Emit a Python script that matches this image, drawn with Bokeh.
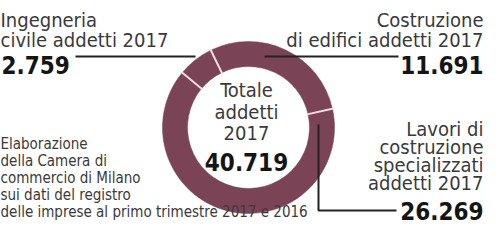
import numpy as np
from bokeh.plotting import figure
from bokeh.models import Range1d
from bokeh.core.properties import value
from bokeh.embed import file_html
from bokeh.resources import INLINE

# ---- data ----
categories = ["Costruzione di edifici", "Lavori di costruzione specializzati", "Ingegneria civile"]
addetti = [11691, 26269, 2759]
totale = 40719
labels_val = ["11.691", "26.269", "2.759"]
total_label = "40.719"

W, H = 485, 227
p = figure(width=W, height=H, output_backend="svg", toolbar_location=None,
           x_range=Range1d(0, W), y_range=Range1d(0, H), min_border=0)
p.axis.visible = False
p.grid.visible = False
p.outline_line_color = None
p.background_fill_color = "white"

def Y(sy):
    return (8 + H) - sy
def X(sx):
    return sx - 8

FONT = "DejaVu Sans Condensed"
REG = "#3a3a3a"
BOLD = "#151515"
RING = "#7a4456"
SEP = "#f2dde2"

cx, cy = X(256), Y(135)
r_out, r_in = 86, 61
base = np.deg2rad(116)
vals = np.array(addetti, dtype=float)
frac = np.cumsum(np.concatenate([[0], vals])) / vals.sum()
starts = base - frac[:-1] * 2 * np.pi
ends = base - frac[1:] * 2 * np.pi
p.annular_wedge(x=[cx] * 3, y=[cy] * 3, inner_radius=r_in, outer_radius=r_out,
                start_angle=starts, end_angle=ends, direction="clock",
                fill_color=RING, line_color=RING, line_width=0.5)
b = base - frac[:-1] * 2 * np.pi
p.segment(x0=cx + (r_in - 1) * np.cos(b), y0=cy + (r_in - 1) * np.sin(b),
          x1=cx + (r_out + 1) * np.cos(b), y1=cy + (r_out + 1) * np.sin(b),
          line_color=SEP, line_width=2)

# leader lines
p.line(x=[X(83), X(203)], y=[Y(64), Y(64)], line_color="#222222", line_width=2)
p.line(x=[X(272), X(406)], y=[Y(64), Y(64)], line_color="#222222", line_width=2)
p.line(x=[X(326), X(326), X(404)], y=[Y(132), Y(218), Y(218)], line_color="#222222", line_width=2)

def txt(x, y, t, size, color=REG, align="left", bold=False):
    p.text(x=[x], y=[y], text=[t], text_font=value(FONT), text_font_size=f"{size}px",
           text_color=color, text_align=align, text_baseline="alphabetic",
           text_font_style="bold" if bold else "normal")

RS = 20
BS = 24
RX = X(491)
# Ingegneria civile
txt(X(8), Y(27), "Ingegneria", RS)
txt(X(8), Y(47), "civile addetti 2017", RS)
txt(X(9), Y(72), labels_val[2], BS, BOLD, bold=True)

# Costruzione di edifici
txt(RX, Y(27), "Costruzione", RS, align="right")
txt(RX, Y(47), "di edifici addetti 2017", RS, align="right")
txt(RX, Y(72), labels_val[0], BS, BOLD, align="right", bold=True)

# Lavori
txt(RX, Y(136), "Lavori di", RS, align="right")
txt(RX, Y(154), "costruzione", RS, align="right")
txt(RX, Y(172), "specializzati", RS, align="right")
txt(RX, Y(190), "addetti 2017", RS, align="right")
txt(RX, Y(218), labels_val[1], BS, BOLD, align="right", bold=True)

# centre
txt(cx - 2, Y(97), "Totale", RS, align="center")
txt(cx - 2, Y(119), "addetti", RS, align="center")
txt(cx - 2, Y(140), "2017", RS, align="center")
txt(cx - 2, Y(169), total_label, BS, BOLD, align="center", bold=True)

# source note
note = ["Elaborazione", "della Camera di", "commercio di Milano", "sui dati del registro",
        "delle imprese al primo trimestre 2017 e 2016"]
for i, s in enumerate(note):
    txt(X(8), Y(151 + i * 17), s, 15)

open("out.html", "w").write(file_html(p, INLINE))
